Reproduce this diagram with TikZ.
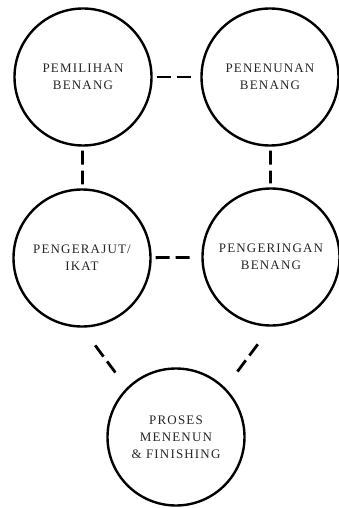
\documentclass[tikz,border=0pt]{standalone}
\usepackage{fontspec}
\setmainfont{Liberation Serif}
\begin{document}
\begin{tikzpicture}[x=1pt,y=-1pt,
  stage/.style={draw,circle,line width=2.4pt,minimum size=137pt,inner sep=0pt,
    align=center,text=black!85,
    font=\fontsize{13}{17}\selectfont\addfontfeatures{LetterSpace=9}},
  link/.style={line width=2.8pt,dash pattern=on 14pt off 6pt,
    shorten <=4pt,shorten >=4pt}]
\useasboundingbox (0,0) rectangle (339,508);
\node[stage] (pemilihan) at (83,77) {PEMILIHAN\\BENANG};
\node[stage] (penenunan) at (270,77) {PENENUNAN\\BENANG};
\node[stage] (pengerajut) at (82,258) {PENGERAJUT/\\IKAT};
\node[stage] (pengeringan) at (271,257) {PENGERINGAN\\BENANG};
\node[stage] (proses) at (176,437) {PROSES\\MENENUN\\\& FINISHING};
\draw[link,shorten >=7pt] (pemilihan) -- (penenunan);
\draw[link] (pemilihan) -- (pengerajut);
\draw[link] (penenunan) -- (pengeringan);
\draw[link,shorten >=7pt] (pengerajut) -- (pengeringan);
\draw[link,shorten <=22pt,shorten >=19pt] (pengerajut.south) -- (proses.135);
\draw[link,shorten <=22pt,shorten >=19pt] (pengeringan.south) -- (proses.45);
\end{tikzpicture}
\end{document}
